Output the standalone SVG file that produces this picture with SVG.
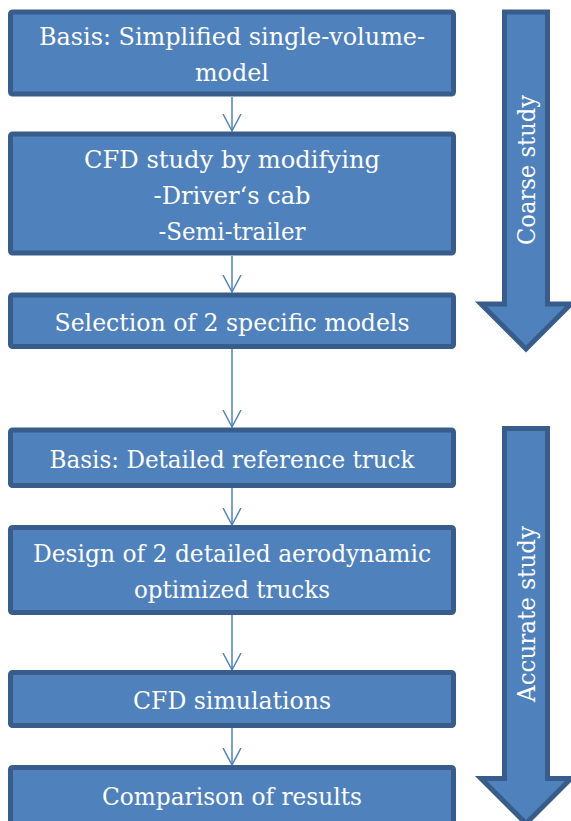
<svg xmlns="http://www.w3.org/2000/svg" width="571" height="821" viewBox="0 0 571 821">
<style>
.box{fill:#4F81BD;stroke:#385D8A;stroke-width:5;}
.big{fill:#4F81BD;stroke:#385D8A;stroke-width:5;stroke-linejoin:miter;}
.t{font-family:'DejaVu Serif','Liberation Serif',serif;font-size:25px;fill:#FFFFFF;text-anchor:middle;}
.c{stroke:#4F81BD;stroke-width:1.5;fill:none;}
</style>
<defs>
<marker id="ah" markerUnits="userSpaceOnUse" viewBox="0 0 20 20" refX="17" refY="10" markerWidth="20" markerHeight="20" orient="auto">
<path d="M0,1 L17,10 L0,19" fill="none" stroke="#4F81BD" stroke-width="1.5"/>
</marker>
</defs>
<rect width="571" height="821" fill="#FFFFFF"/>
<g id="connectors">
<line class="c" x1="232" y1="97" x2="232" y2="131" marker-end="url(#ah)"/>
<line class="c" x1="232" y1="256" x2="232" y2="292" marker-end="url(#ah)"/>
<line class="c" x1="232" y1="349" x2="232" y2="427" marker-end="url(#ah)"/>
<line class="c" x1="232" y1="488" x2="232" y2="525" marker-end="url(#ah)"/>
<line class="c" x1="232" y1="615" x2="232" y2="670" marker-end="url(#ah)"/>
<line class="c" x1="232" y1="728" x2="232" y2="765" marker-end="url(#ah)"/>
</g>
<g id="coarse-arrow">
<path class="big" d="M504.5,12 L547.5,12 L547.5,304 L571,304 L526,349 L481,304 L504.5,304 Z"/>
<text class="t" transform="translate(535,170) rotate(-90)" textLength="150" lengthAdjust="spacingAndGlyphs">Coarse study</text>
</g>
<g id="accurate-arrow">
<path class="big" d="M504.5,428.5 L547.5,428.5 L547.5,778.5 L571,778.5 L526,823.5 L481,778.5 L504.5,778.5 Z"/>
<text class="t" transform="translate(535,614) rotate(-90)" textLength="176" lengthAdjust="spacingAndGlyphs">Accurate study</text>
</g>
<g id="n1">
<rect class="box" x="10.5" y="12" width="443" height="82" rx="2"/>
<text class="t" x="232" y="45" textLength="386" lengthAdjust="spacingAndGlyphs">Basis: Simplified  single-volume-</text>
<text class="t" x="232" y="81" textLength="74" lengthAdjust="spacingAndGlyphs">model</text>
</g>
<g id="n2">
<rect class="box" x="10.5" y="134" width="443" height="119" rx="2"/>
<text class="t" x="232" y="168" textLength="296" lengthAdjust="spacingAndGlyphs">CFD study by modifying</text>
<text class="t" x="232" y="204" textLength="157" lengthAdjust="spacingAndGlyphs">-Driver‘s cab</text>
<text class="t" x="232" y="240" textLength="147" lengthAdjust="spacingAndGlyphs">-Semi-trailer</text>
</g>
<g id="n3">
<rect class="box" x="10.5" y="295" width="443" height="51.5" rx="2"/>
<text class="t" x="232" y="331" textLength="355" lengthAdjust="spacingAndGlyphs">Selection of 2 specific models</text>
</g>
<g id="n4">
<rect class="box" x="10.5" y="430" width="443" height="55.5" rx="2"/>
<text class="t" x="232" y="468" textLength="365" lengthAdjust="spacingAndGlyphs">Basis: Detailed reference truck</text>
</g>
<g id="n5">
<rect class="box" x="10.5" y="527.5" width="443" height="85" rx="2"/>
<text class="t" x="232" y="562" textLength="398" lengthAdjust="spacingAndGlyphs">Design of 2 detailed aerodynamic</text>
<text class="t" x="232" y="598" textLength="196" lengthAdjust="spacingAndGlyphs">optimized trucks</text>
</g>
<g id="n6">
<rect class="box" x="10.5" y="672.5" width="443" height="53" rx="2"/>
<text class="t" x="232" y="709" textLength="198" lengthAdjust="spacingAndGlyphs">CFD simulations</text>
</g>
<g id="n7">
<rect class="box" x="10.5" y="767.5" width="443" height="60" rx="2"/>
<text class="t" x="232" y="805" textLength="260" lengthAdjust="spacingAndGlyphs">Comparison of results</text>
</g>
</svg>
